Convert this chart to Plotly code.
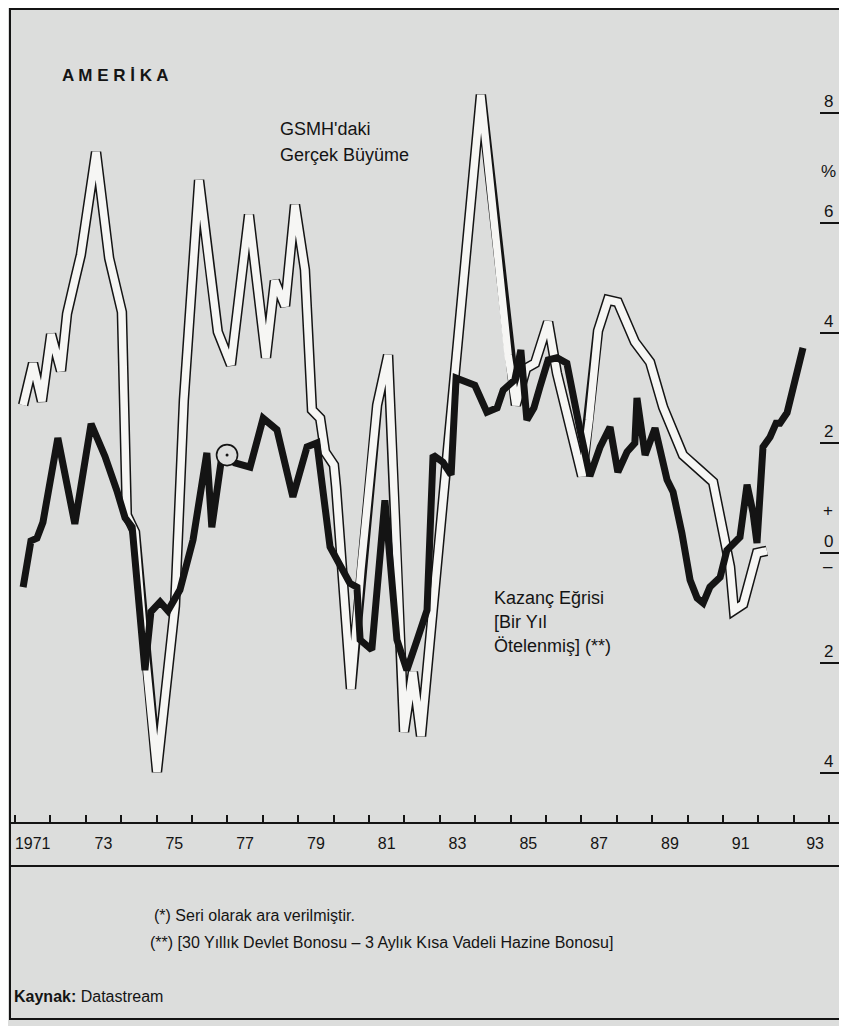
import plotly.graph_objects as go

# ---------------- data ----------------
# Real GNP growth (GSMH'daki Gerçek Büyüme), % — vertices of the double line
gdp_t = [1971.23, 1971.51, 1971.76, 1972.02, 1972.30, 1972.47, 1972.69, 1972.86,
         1973.29, 1973.66, 1974.02, 1974.16, 1974.39, 1974.62, 1975.01, 1975.52,
         1975.77, 1976.20, 1976.51, 1976.73, 1977.10, 1977.61, 1978.09, 1978.34,
         1978.63, 1978.91, 1979.19, 1979.39, 1979.62, 1979.76, 1980.01, 1980.07,
         1980.49, 1980.77, 1981.23, 1981.54, 1981.79, 1981.99, 1982.24, 1982.47,
         1984.16, 1984.93, 1985.15, 1985.44, 1985.69, 1986.06, 1986.31, 1987.02,
         1987.22, 1987.47, 1987.75, 1988.03, 1988.51, 1988.94, 1989.31, 1989.87,
         1990.27, 1990.72, 1991.20, 1991.31, 1991.57, 1991.96, 1992.24]
gdp_v = [2.69, 3.45, 2.76, 3.98, 3.31, 4.35, 4.96, 5.42,
         7.29, 5.36, 4.38, 0.69, 0.38, -1.44, -3.98, -0.96,
         2.78, 6.78, 5.15, 4.02, 3.42, 6.15, 3.55, 4.95,
         4.49, 6.33, 5.15, 2.60, 2.45, 1.84, 1.60, 1.20,
         -2.47, -0.31, 2.69, 3.60, -0.13, -3.25, -2.16, -3.33,
         8.33, 3.60, 2.69, 3.36, 3.45, 4.20, 3.27, 1.40,
         2.42, 4.04, 4.60, 4.56, 3.84, 3.47, 2.65, 1.78,
         1.55, 1.29, -0.25, -1.04, -0.93, 0.00, 0.04]

# Yield curve (Kazanç Eğrisi, shifted one year), %
kaz_t = [1971.23, 1971.45, 1971.62, 1971.79, 1972.21, 1972.69, 1973.15, 1973.54,
         1973.88, 1974.11, 1974.31, 1974.67, 1974.84, 1975.10, 1975.32, 1975.66,
         1976.03, 1976.42, 1976.56, 1976.82, 1976.99, 1977.21, 1977.64, 1978.01,
         1978.40, 1978.85, 1979.25, 1979.53, 1979.90, 1980.46, 1980.66, 1980.75,
         1981.08, 1981.45, 1981.79, 1982.07, 1982.36, 1982.64, 1982.81, 1983.09,
         1983.32, 1983.46, 1983.99, 1984.33, 1984.62, 1984.79, 1985.12, 1985.29,
         1985.46, 1985.66, 1985.83, 1986.06, 1986.31, 1986.59, 1986.96, 1987.13,
         1987.24, 1987.53, 1987.81, 1988.03, 1988.29, 1988.51, 1988.57, 1988.80,
         1989.08, 1989.42, 1989.59, 1989.84, 1990.07, 1990.27, 1990.44, 1990.63,
         1990.92, 1991.11, 1991.48, 1991.68, 1991.85, 1991.96, 1992.13, 1992.33,
         1992.50, 1992.61, 1992.81, 1993.26]
kaz_v = [-0.62, 0.22, 0.27, 0.56, 2.09, 0.53, 2.35, 1.76,
         1.13, 0.64, 0.47, -2.13, -1.07, -0.89, -1.05, -0.67,
         0.24, 1.82, 0.47, 1.65, 1.78, 1.64, 1.56, 2.45,
         2.24, 1.02, 1.93, 2.00, 0.11, -0.55, -0.62, -1.58,
         -1.76, 0.96, -1.58, -2.13, -1.58, -1.04, 1.78, 1.65,
         1.42, 3.18, 3.05, 2.56, 2.64, 2.96, 3.15, 3.69,
         2.42, 2.64, 3.02, 3.51, 3.55, 3.45, 2.24, 1.78,
         1.40, 1.93, 2.29, 1.47, 1.84, 2.00, 2.82, 1.78,
         2.27, 1.33, 1.11, 0.36, -0.49, -0.82, -0.91, -0.62,
         -0.44, 0.05, 0.29, 1.24, 0.73, 0.18, 1.93, 2.11,
         2.36, 2.36, 2.55, 3.73]
kaz_break = 20   # index of the series break (*)

year_labels = ["1971", "73", "75", "77", "79", "81", "83", "85", "87", "89", "91", "93"]
year_label_pos = [1971.5, 1973.5, 1975.5, 1977.5, 1979.5, 1981.5,
                  1983.5, 1985.5, 1987.5, 1989.5, 1991.5, 1993.6]
y_tickvals = [8, 6, 4, 2, 0, -2, -4]
y_ticktext = ["8", "6", "4", "2", "0", "2", "4"]

# ---------------- styling ----------------
BG = "#dcdddc"
INK = "#141414"
FONT = "Liberation Sans, Arial, sans-serif"

# page is shown with an 8px body margin, so the figure is 8px smaller
W, H = 839, 1018
L, R, T, B = 2, 5, 1, 204
PW, PH = W - L - R, H - T - B


def px_x(p):      # reference pixel -> paper x
    return (p - 8 - L) / PW


def px_y(p):      # reference pixel -> paper y
    return (H - B - (p - 8)) / PH


fig = go.Figure()
fig.add_trace(go.Scatter(x=gdp_t, y=gdp_v, mode="lines",
                         line=dict(color=INK, width=10.5), hoverinfo="skip",
                         showlegend=False))
fig.add_trace(go.Scatter(x=gdp_t, y=gdp_v, mode="lines",
                         line=dict(color="#f6f6f4", width=7.5), hoverinfo="skip",
                         showlegend=False))
fig.add_trace(go.Scatter(x=kaz_t, y=kaz_v, mode="lines",
                         line=dict(color=INK, width=7), hoverinfo="skip",
                         showlegend=False))
fig.add_trace(go.Scatter(x=[kaz_t[kaz_break]], y=[kaz_v[kaz_break]], mode="markers",
                         marker=dict(size=21, color=BG, line=dict(color=INK, width=1.6)),
                         hoverinfo="skip", showlegend=False))
fig.add_trace(go.Scatter(x=[kaz_t[kaz_break]], y=[kaz_v[kaz_break]], mode="markers",
                         marker=dict(size=3, color=INK),
                         hoverinfo="skip", showlegend=False))

fig.update_layout(
    width=W, height=H,
    margin=dict(l=L, r=R, t=T, b=B),
    paper_bgcolor=BG, plot_bgcolor=BG,
    font=dict(family=FONT, color=INK),
    xaxis=dict(range=[1970.859, 1994.362], tickmode="array",
               tickvals=year_label_pos, ticktext=year_labels,
               ticks="", showgrid=False, zeroline=False,
               showline=True, linecolor=INK, linewidth=2,
               tickfont=dict(size=16, family=FONT, color=INK),
               ticklabelstandoff=6,
               minor=dict(ticks="inside", ticklen=7, tickwidth=1.5, tickcolor=INK,
                          tick0=1971, dtick=1, showgrid=False)),
    yaxis=dict(range=[-4.891, 9.891], side="right", tickmode="array",
               tickvals=y_tickvals, showticklabels=False,
               ticks="inside", ticklen=22, tickwidth=1.5, tickcolor=INK,
               showgrid=False, zeroline=False,
               showline=True, linecolor=INK, linewidth=2),
)

# frame of the whole figure block and the band under the year labels
fig.add_shape(type="rect", xref="paper", yref="paper", x0=0, x1=1,
              y0=px_y(1019), y1=1, line=dict(color=INK, width=2))
fig.add_shape(type="line", xref="paper", yref="paper", x0=0, x1=1,
              y0=px_y(866), y1=px_y(866), line=dict(color=INK, width=2))

texts = [
    ("<b>A M E R İ K A</b>", 60, 75, 17),
    ("GSMH'daki", 278, 129, 18),
    ("Gerçek Büyüme", 278, 155, 18),
    ("Kazanç Eğrisi", 492, 598, 18),
    ("[Bir Yıl", 492, 622, 18),
    ("Ötelenmiş] (**)", 492, 646, 18),
    ("(*) Seri olarak ara verilmiştir.", 152, 915, 16),
    ("(**) [30 Yıllık Devlet Bonosu – 3 Aylık Kısa Vadeli Hazine Bonosu]", 148, 942, 16),
    ("<b>Kaynak:</b> Datastream", 12, 996, 16),
]
for t, x, y, s in texts:
    fig.add_annotation(text=t, xref="paper", yref="paper", x=px_x(x), y=px_y(y),
                       xanchor="left", yanchor="middle", showarrow=False,
                       font=dict(size=s, family=FONT, color=INK))

# right-hand scale labels, sitting just above their tick marks
for v, t in zip(y_tickvals, y_ticktext):
    fig.add_annotation(text=t, xref="paper", yref="y", x=px_x(828), y=v, yshift=12,
                       xanchor="center", yanchor="middle", showarrow=False,
                       font=dict(size=17, family=FONT, color=INK))

# unit and sign marks beside the right axis
for t, v in [("%", 6.93), ("+", 0.78), ("–", -0.24)]:
    fig.add_annotation(text=t, xref="paper", yref="y", x=px_x(828), y=v,
                       xanchor="center", yanchor="middle", showarrow=False,
                       font=dict(size=17, family=FONT, color=INK))

fig.write_html("out.html")
